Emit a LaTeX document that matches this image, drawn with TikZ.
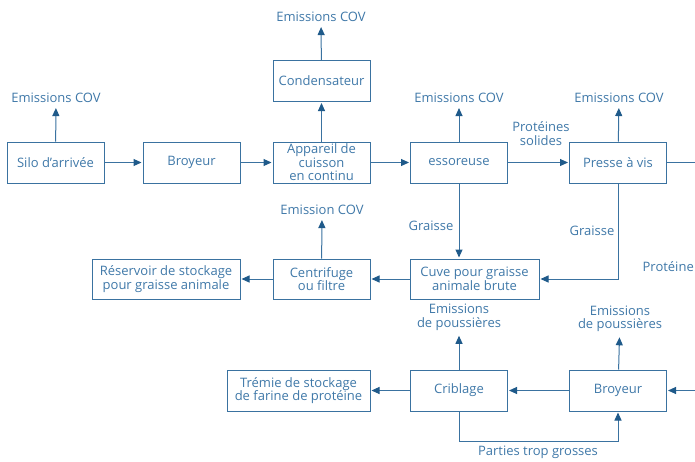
\documentclass[tikz,border=0pt]{standalone}
\usepackage{fontspec}
\setmainfont{Open Sans}
\usetikzlibrary{arrows.meta}

\definecolor{linecol}{HTML}{3A72A0}
\definecolor{tipcol}{HTML}{1F5A8A}
\definecolor{textcol}{HTML}{3F78A8}

\begin{document}
\begin{tikzpicture}[x=1pt, y=-1pt,
  every node/.style={text=textcol, font=\fontsize{13}{13.5}\selectfont, align=center, inner sep=0pt},
  box/.style={draw=linecol, line width=1pt, minimum width=97pt, minimum height=41pt},
  arr/.style={draw=linecol, line width=1pt, shorten >=1pt, -{Triangle[length=8pt, width=7pt, fill=tipcol, color=tipcol]}}]
\useasboundingbox (0,0) rectangle (695,461);

% top row
\node[box] (silo) at (55.5,162.5) {Silo d'arrivée};
\node[box] (broy1) at (191.5,162.5) {Broyeur};
\node[box] (cuis) at (321.5,162.5) {Appareil de\\cuisson\\en continu};
\node[box] (cond) at (321.5,81) {Condensateur};
\node[box] (esso) at (459,162.5) {essoreuse};
\node[box] (press) at (618,162.5) {Presse à vis};

\node[inner sep=4pt] (E1) at (56,98) {Emissions COV};
\node[inner sep=4pt] (E2) at (321,17) {Emissions COV};
\node[inner sep=4pt] (E3) at (459,98) {Emissions COV};
\node[inner sep=4pt] (E4) at (619,98) {Emissions COV};
\node (L1) at (541,133.5) {Protéines\\solides};
\coordinate (R1) at (700,162.5);

% middle row
\node[box, minimum width=148pt, minimum height=40pt] (resv) at (166,279) {Réservoir de stockage\\pour graisse animale};
\node[box, minimum height=40pt] (cent) at (321.5,279) {Centrifuge\\ou filtre};
\node[box, minimum width=129pt, minimum height=40pt] (cuve) at (474.5,279) {Cuve pour graisse\\animale brute};
\node[inner sep=4pt] (E5) at (322,210) {Emission COV};
\node (G1) at (431,226) {Graisse};
\node (G2) at (592,231) {Graisse};
\node[anchor=east] (P1) at (694,267) {Protéine};

% bottom row
\node[box, minimum width=143pt] (trem) at (298.5,390.5) {Trémie de stockage\\de farine de protéine};
\node[box] (crib) at (459,390.5) {Criblage};
\node[box] (broy2) at (618,390.5) {Broyeur};
\node[inner sep=4pt] (E6) at (459,317.5) {Emissions\\de poussières};
\node[inner sep=4pt] (E7) at (620,319) {Emissions\\de poussières};
\node (L2) at (538,452) {Parties trop grosses};
\coordinate (R2) at (700,390.5);

\draw[arr] (silo) -- (broy1);
\draw[arr] (broy1) -- (cuis);
\draw[arr] (cuis) -- (esso);
\draw[arr] (esso) -- (press);
\draw[line width=1pt, draw=linecol] (press) -- (R1);
\draw[arr] (cuis) -- (cond);
\draw[arr] (cond) -- (E2);
\draw[arr] (silo) -- (E1);
\draw[arr] (esso) -- (E3);
\draw[arr] (press) -- (E4);

\draw[arr] (esso) -- (cuve.north -| esso);
\draw[arr] (press) |- (cuve);
\draw[arr] (cuve) -- (cent);
\draw[arr] (cent) -- (resv);
\draw[arr] (cent) -- (E5);

\draw[arr] (R2) -- (broy2);
\draw[arr] (broy2) -- (crib);
\draw[arr] (crib) -- (trem);
\draw[arr] (crib) -- (E6);
\draw[arr] (broy2) -- (E7);
\draw[arr] (crib.south) -- ++(0,30) -| (broy2.south);
\end{tikzpicture}
\end{document}
